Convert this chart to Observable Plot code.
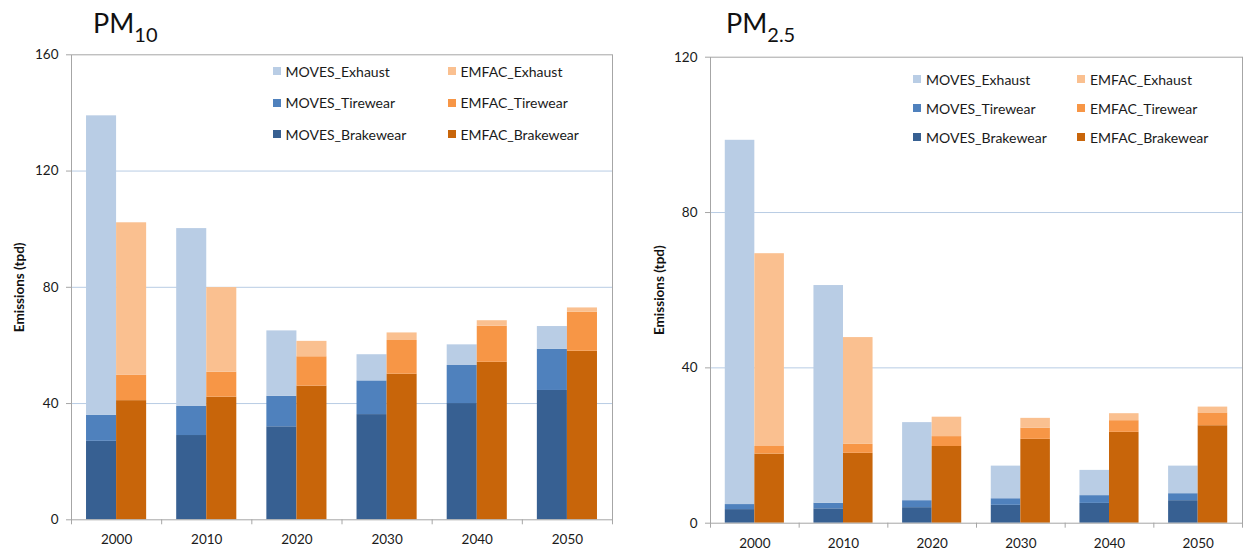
<!DOCTYPE html>
<html>
<head>
<meta charset="utf-8">
<script src="https://cdn.jsdelivr.net/npm/d3@7"></script>
<script src="https://cdn.jsdelivr.net/npm/@observablehq/plot@0.6"></script>
<style>
  html, body { margin: 0; padding: 0; background: #fff; }
  #root { position: relative; width: 1243px; height: 551px; font-family: Lato, "Open Sans", sans-serif; color: #1a1a1a; overflow: hidden; }
  .panel { position: absolute; top: 0; }
  .title { position: absolute; font-size: 27px; line-height: 27px; color: #111; white-space: nowrap; }
  .title sub { font-size: 20px; vertical-align: -9px; line-height: 0; }
  .lg { position: absolute; height: 20px; display: flex; align-items: center; font-size: 14px; white-space: nowrap; color: #1a1a1a; }
  .lg span.sw { display: inline-block; width: 8px; height: 8px; margin-right: 5px; }
</style>
</head>
<body>
<div id="root"></div>
<script>
// ---- data ----
const years = ["2000", "2010", "2020", "2030", "2040", "2050"];
const models = ["MOVES", "EMFAC"];
const components = ["Brakewear", "Tirewear", "Exhaust"]; // stacking order bottom -> top
const seriesNames = ["MOVES_Exhaust", "MOVES_Tirewear", "MOVES_Brakewear", "EMFAC_Exhaust", "EMFAC_Tirewear", "EMFAC_Brakewear"];
const seriesColors = ["#B9CDE5", "#4F81BD", "#376092", "#FAC090", "#F79646", "#C8650A"];
const yTitle = "Emissions (tpd)";

// PM10 (tpd)
const pm10_MOVES_Brakewear = [27, 29, 32, 36.2, 40, 44.5];
const pm10_MOVES_Tirewear  = [9, 10, 10.5, 11.6, 13.1, 14.2];
const pm10_MOVES_Exhaust   = [103, 61.2, 22.5, 9, 7.1, 7.8];
const pm10_EMFAC_Brakewear = [41, 42.2, 46, 50.1, 54.2, 58];
const pm10_EMFAC_Tirewear  = [8.7, 8.6, 10.1, 11.6, 12.4, 13.4];
const pm10_EMFAC_Exhaust   = [52.5, 29.1, 5.3, 2.6, 1.9, 1.5];
const pm10_yTicks = [0, 40, 80, 120, 160];

// PM2.5 (tpd)
const pm25_MOVES_Brakewear = [3.5, 3.7, 4.0, 4.6, 5.1, 5.8];
const pm25_MOVES_Tirewear  = [1.3, 1.45, 1.8, 1.7, 2.0, 1.8];
const pm25_MOVES_Exhaust   = [93.8, 56.05, 20.1, 8.4, 6.5, 7.1];
const pm25_EMFAC_Brakewear = [17.8, 18.0, 19.75, 21.6, 23.4, 25.1];
const pm25_EMFAC_Tirewear  = [1.95, 2.3, 2.55, 2.9, 3.0, 3.3];
const pm25_EMFAC_Exhaust   = [49.65, 27.5, 5.0, 2.5, 1.8, 1.5];
const pm25_yTicks = [0, 40, 80, 120];

const pm10 = {
  MOVES: {Brakewear: pm10_MOVES_Brakewear, Tirewear: pm10_MOVES_Tirewear, Exhaust: pm10_MOVES_Exhaust},
  EMFAC: {Brakewear: pm10_EMFAC_Brakewear, Tirewear: pm10_EMFAC_Tirewear, Exhaust: pm10_EMFAC_Exhaust}
};
const pm25 = {
  MOVES: {Brakewear: pm25_MOVES_Brakewear, Tirewear: pm25_MOVES_Tirewear, Exhaust: pm25_MOVES_Exhaust},
  EMFAC: {Brakewear: pm25_EMFAC_Brakewear, Tirewear: pm25_EMFAC_Tirewear, Exhaust: pm25_EMFAC_Exhaust}
};

function rows(table, model) {
  const out = [];
  years.forEach((year, i) => {
    components.forEach((c) => {
      out.push({year, model, series: model + "_" + c, value: table[model][c][i]});
    });
  });
  return out;
}

function makeChart(table, cfg) {
  const step = (cfg.width - cfg.ml - cfg.mr) / years.length;
  const moves = rows(table, "MOVES");
  const emfac = rows(table, "EMFAC");
  const axisGray = "#A6A6A6";
  return Plot.plot({
    width: cfg.width,
    height: cfg.height,
    marginLeft: cfg.ml,
    marginRight: cfg.mr,
    marginTop: cfg.mt,
    marginBottom: cfg.mb,
    style: {fontFamily: "Lato, 'Open Sans', sans-serif", fontSize: "13px", color: "#1a1a1a", background: "white"},
    x: {type: "band", domain: years, padding: 0, round: false},
    y: {domain: [0, cfg.yTicks[cfg.yTicks.length - 1]]},
    color: {domain: seriesNames, range: seriesColors},
    marks: [
      Plot.gridY(cfg.yTicks.slice(1, -1), {stroke: "#B8CCE4", strokeOpacity: 1}),
      Plot.barY(moves, Plot.stackY({x: "year", y: "value", fill: "series", insetLeft: step / 6, insetRight: step / 2})),
      Plot.barY(emfac, Plot.stackY({x: "year", y: "value", fill: "series", insetLeft: step / 2, insetRight: step / 6})),
      Plot.frame({stroke: axisGray}),
      Plot.ruleX(years, {x: (d) => d, y1: 0, y2: 0, insetBottom: -5, dx: -step / 2, stroke: axisGray}),
      Plot.ruleX(years.slice(-1), {x: (d) => d, y1: 0, y2: 0, insetBottom: -5, dx: step / 2, stroke: axisGray}),
      Plot.axisY({ticks: cfg.yTicks, tickSize: 5, tickPadding: 8, label: null, stroke: axisGray, fill: "#1a1a1a", fontSize: 13.5}),
      Plot.axisX({tickSize: 0, tickPadding: 15, label: null, fill: "#1a1a1a", fontSize: 13.5}),
      Plot.text([yTitle], {text: (d) => d, frameAnchor: "left", textAnchor: "middle", rotate: -90, dx: cfg.titleDx, fontWeight: "bold", fontSize: 13.5, fill: "#111"})
    ]
  });
}

const root = document.getElementById("root");

function addPanel(left, svg) {
  const d = document.createElement("div");
  d.className = "panel";
  d.style.left = left + "px";
  d.appendChild(svg);
  root.appendChild(d);
}

function addTitle(left, main, sub) {
  const t = document.createElement("div");
  t.className = "title";
  t.style.left = left + "px";
  t.style.top = "9px";
  t.innerHTML = main + "<sub>" + sub + "</sub>";
  root.appendChild(t);
}

function addLegend(colLefts, rowCenters) {
  seriesNames.forEach((name, i) => {
    const col = Math.floor(i / 3), row = i % 3;
    const item = document.createElement("div");
    item.className = "lg";
    item.style.left = colLefts[col] + "px";
    item.style.top = (rowCenters[row] - 10) + "px";
    const sw = document.createElement("span");
    sw.className = "sw";
    sw.style.background = seriesColors[i];
    item.appendChild(sw);
    item.appendChild(document.createTextNode(name));
    root.appendChild(item);
  });
}

addPanel(0, makeChart(pm10, {width: 620, height: 551, ml: 71, mr: 8, mt: 54.3, mb: 31.7, yTicks: pm10_yTicks, titleDx: -52}));
addPanel(620, makeChart(pm25, {width: 623, height: 551, ml: 90, mr: 1, mt: 56.7, mb: 28.3, yTicks: pm25_yTicks, titleDx: -51}));

addTitle(93, "PM", "10");
addTitle(726, "PM", "2.5");
addLegend([272.5, 447.5], [71, 102.5, 134]);
addLegend([913, 1077], [79, 108, 137]);
</script>
</body>
</html>
